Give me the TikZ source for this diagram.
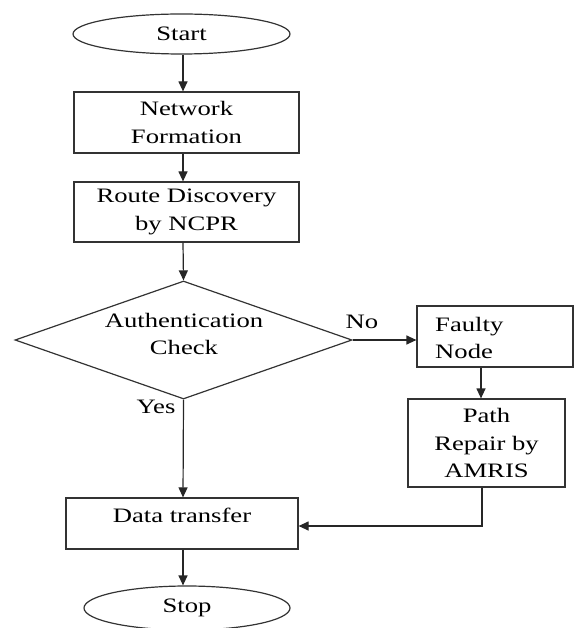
\documentclass[tikz,border=0pt]{standalone}
\usepackage{fontspec}
\setmainfont{Liberation Serif}[FakeStretch=1.3]
\usetikzlibrary{shapes.geometric,arrows.meta}
\begin{document}
\begin{tikzpicture}[x=1pt,y=-1pt,
  every node/.style={font=\fontsize{20.5}{27.5}\selectfont, text=black},
  shapeline/.style={draw=black!80, line width=1.2pt, inner sep=0pt},
  box/.style={shapeline, rectangle},
  oval/.style={shapeline, ellipse},
  txt/.style={align=center, inner sep=0pt},
  flow/.style={draw=black!85, line width=1.2pt, -{Triangle[length=10pt,width=9pt]}},
  lab/.style={inner sep=0pt}]
\useasboundingbox (0,0) rectangle (573,628);

\node[oval, minimum width=217pt, minimum height=40pt] (start) at (181.5,34) {Start};
\node[box, minimum width=225pt, minimum height=61pt, txt] (net) at (186.5,122.5) {Network\\Formation};
\node[box, minimum width=225pt, minimum height=60pt, txt] (route) at (186.5,212) {Route Discovery\\by NCPR};
\node[shapeline, diamond, minimum width=337pt, minimum height=118pt] (auth) at (183.5,340) {};
\node[txt] (authtext) at (184,334) {Authentication\\Check};
\node[box, minimum width=156pt, minimum height=61pt] (faulty) at (495,336.5) {};
\node[txt, align=left, anchor=west] (faultytext) at (435,338) {Faulty\\Node};
\node[box, minimum width=157pt, minimum height=88pt, txt] (path) at (486.5,443) {Path\\Repair by\\AMRIS};
\node[box, minimum width=232pt, minimum height=51pt] (data) at (182,523.5) {};
\node[txt] (datatext) at (182,515) {Data transfer};
\node[oval, minimum width=206pt, minimum height=44pt] (stop) at (187,608) {Stop};

\node[lab] (no) at (362,322) {No};
\node[lab] (yes) at (156,407) {Yes};

\coordinate (c1) at (183,0);
\draw[flow] (start.south -| c1) -- (net.north -| c1);
\draw[flow] (net.south -| c1) -- (route.north -| c1);
\draw[flow] (route.south -| c1) -- (auth.north);
\draw[flow] (auth.south) -- (data.north -| c1);
\draw[flow] (data.south -| c1) -- (stop.north -| c1);
\draw[flow] (auth.east) -- (auth.east -| faulty.west);
\coordinate (c2) at (481,0);
\draw[flow] (faulty.south -| c2) -- (path.north -| c2);
\coordinate (c3) at (482,526);
\draw[flow] (path.south -| c3) -- (c3) -- (c3 -| data.east);
\end{tikzpicture}
\end{document}
